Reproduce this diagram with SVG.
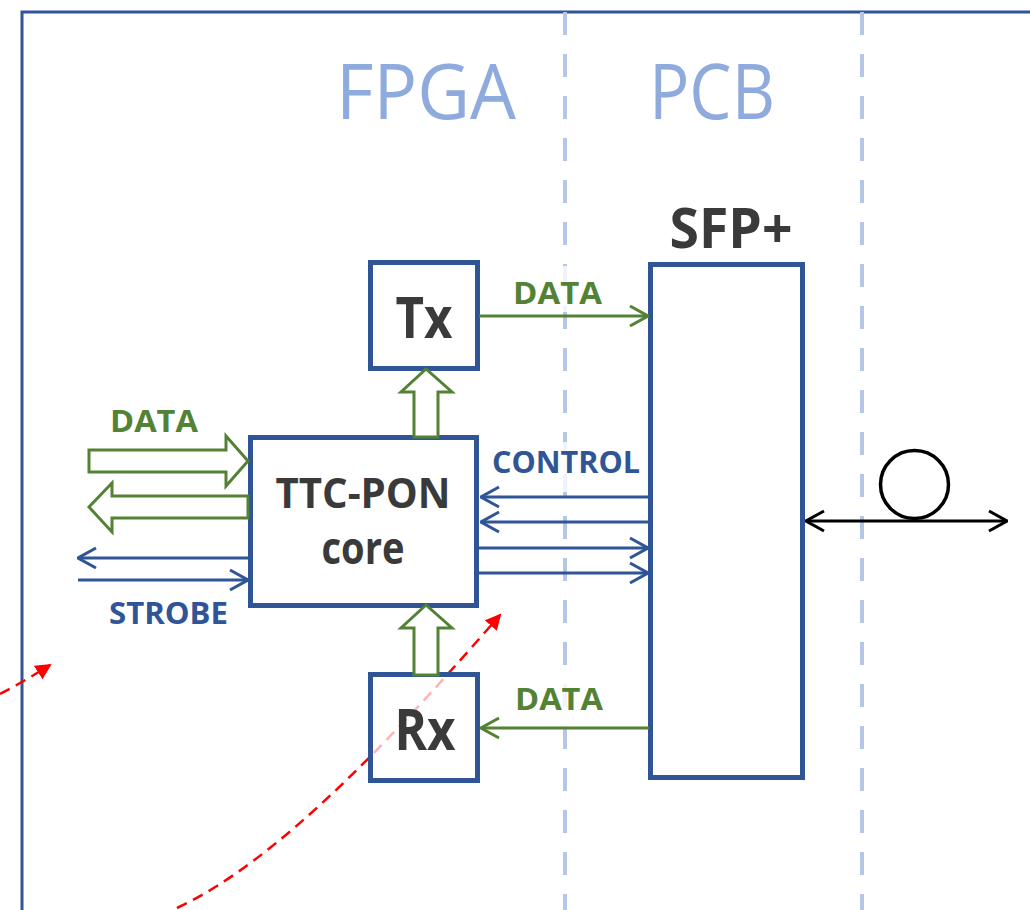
<svg xmlns="http://www.w3.org/2000/svg" width="1030" height="910" viewBox="0 0 1030 910">
<style>
.box{fill:#fff;stroke:#2F5597;stroke-width:5}
.lbl{font-family:"Open Sans","Liberation Sans",Arial,sans-serif;font-weight:bold;font-size:31px}
.g{fill:#548235}.b{fill:#2F5597}
.big{font-family:"Open Sans","Liberation Sans",Arial,sans-serif;font-weight:bold;fill:#3A3A3A;text-anchor:middle}
.zone{font-family:"Open Sans","Liberation Sans",sans-serif;font-weight:normal;font-size:76px;fill:#8FAADC}
.sep{stroke:#B4C7E7;stroke-width:4;stroke-dasharray:23 19;fill:none}
.blk{fill:#fff;stroke:#548235;stroke-width:3}
.gl{stroke:#548235;stroke-width:3;fill:none}
.bl{stroke:#2F5597;stroke-width:3;fill:none}
.red{stroke:#FF0000;stroke-width:2.5;stroke-dasharray:11 7;fill:none}
.pale{fill:#fff;fill-opacity:0.8}
</style>
<defs>
<marker id="mg" viewBox="0 0 20 24" refX="19" refY="12" markerWidth="20" markerHeight="24" markerUnits="userSpaceOnUse" orient="auto-start-reverse"><path d="M1,2 L19,12 L1,22" fill="none" stroke="#548235" stroke-width="3"/></marker>
<marker id="mb" viewBox="0 0 20 24" refX="19" refY="12" markerWidth="20" markerHeight="24" markerUnits="userSpaceOnUse" orient="auto-start-reverse"><path d="M1,2 L19,12 L1,22" fill="none" stroke="#2F5597" stroke-width="3"/></marker>
<marker id="mk" viewBox="0 0 20 24" refX="19" refY="12" markerWidth="20" markerHeight="24" markerUnits="userSpaceOnUse" orient="auto-start-reverse"><path d="M1,2 L19,12 L1,22" fill="none" stroke="#000" stroke-width="3"/></marker>
<marker id="mr" viewBox="0 0 16 16" refX="14" refY="8" markerWidth="16" markerHeight="16" markerUnits="userSpaceOnUse" orient="auto"><path d="M0,0 L16,8 L0,16 Z" fill="#FF0000"/></marker>
</defs>
<rect width="1030" height="910" fill="#fff"/>
<path d="M22,912 V12 H1032" fill="none" stroke="#2F5597" stroke-width="3"/>
<line class="sep" x1="565" y1="12" x2="565" y2="912"/>
<line class="sep" x1="862" y1="12" x2="862" y2="912"/>
<text class="zone" x="336" y="119" textLength="180" lengthAdjust="spacingAndGlyphs">FPGA</text>
<text class="zone" x="649" y="119" textLength="126" lengthAdjust="spacingAndGlyphs">PCB</text>

<g id="red-paths">
<path class="red" d="M177,908 C280,860 400,730 500,615" marker-end="url(#mr)"/>
<path class="red" d="M0,694 Q25,681 50,665" marker-end="url(#mr)"/>
</g>

<g id="label-bg">
<rect class="pale" x="488" y="442" width="156" height="50"/>
<rect class="pale" x="506" y="266" width="104" height="46"/>
<rect class="pale" x="508" y="684" width="102" height="44"/>
</g>

<g id="core">
<rect class="box" x="250.5" y="437.5" width="226" height="168"/>
<text class="big" x="363" y="508" font-size="42" textLength="175" lengthAdjust="spacingAndGlyphs">TTC-PON</text>
<text class="big" x="363" y="564" font-size="44" textLength="83" lengthAdjust="spacingAndGlyphs">core</text>
</g>
<g id="tx">
<rect class="box" x="370.5" y="262.5" width="107" height="106"/>
<text class="big" x="424" y="338" font-size="57" textLength="57" lengthAdjust="spacingAndGlyphs">Tx</text>
</g>
<g id="rx">
<rect class="box" x="370.5" y="674.5" width="107" height="106" style="fill-opacity:0.7"/>
<text class="big" x="425" y="750" font-size="57" textLength="61" lengthAdjust="spacingAndGlyphs">Rx</text>
</g>
<g id="sfp">
<rect class="box" x="650.5" y="264.5" width="152" height="513"/>
<text class="big" x="731" y="248" font-size="56" textLength="123" lengthAdjust="spacingAndGlyphs">SFP+</text>
</g>
<g id="fiber">
<circle cx="914.5" cy="484.5" r="34" fill="none" stroke="#000" stroke-width="3.5"/>
</g>

<g id="connectors">
<polygon class="blk" points="89,450 226,450 226,436 248,461 226,486 226,472 89,472"/>
<polygon class="blk" points="248,496 112,496 112,483 89,507 112,532 112,518 248,518"/>
<polygon class="blk" points="414,437 414,392 401,392 426,369 452,392 438,392 438,437"/>
<polygon class="blk" points="414,675 414,628 401,628 426,605 452,628 438,628 438,675"/>
<line class="gl" x1="479" y1="316" x2="648" y2="316" marker-end="url(#mg)"/>
<line class="gl" x1="649" y1="728" x2="481" y2="728" marker-end="url(#mg)"/>
<line class="bl" x1="649" y1="497" x2="481" y2="497" marker-end="url(#mb)"/>
<line class="bl" x1="649" y1="522" x2="481" y2="522" marker-end="url(#mb)"/>
<line class="bl" x1="478" y1="548" x2="648" y2="548" marker-end="url(#mb)"/>
<line class="bl" x1="478" y1="573" x2="648" y2="573" marker-end="url(#mb)"/>
<line class="bl" x1="249" y1="558" x2="78" y2="558" marker-end="url(#mb)"/>
<line class="bl" x1="78" y1="580" x2="248" y2="580" marker-end="url(#mb)"/>
<line x1="806" y1="521" x2="1007" y2="521" stroke="#000" stroke-width="3" marker-start="url(#mk)" marker-end="url(#mk)"/>
</g>

<g id="labels">
<text class="lbl g" x="110" y="432" textLength="88" lengthAdjust="spacingAndGlyphs">DATA</text>
<text class="lbl g" x="513" y="304" textLength="89" lengthAdjust="spacingAndGlyphs">DATA</text>
<text class="lbl g" x="515" y="710" textLength="88" lengthAdjust="spacingAndGlyphs">DATA</text>
<text class="lbl b" x="492" y="473" textLength="148" lengthAdjust="spacingAndGlyphs">CONTROL</text>
<text class="lbl b" x="109" y="624" textLength="119" lengthAdjust="spacingAndGlyphs">STROBE</text>
</g>
</svg>
